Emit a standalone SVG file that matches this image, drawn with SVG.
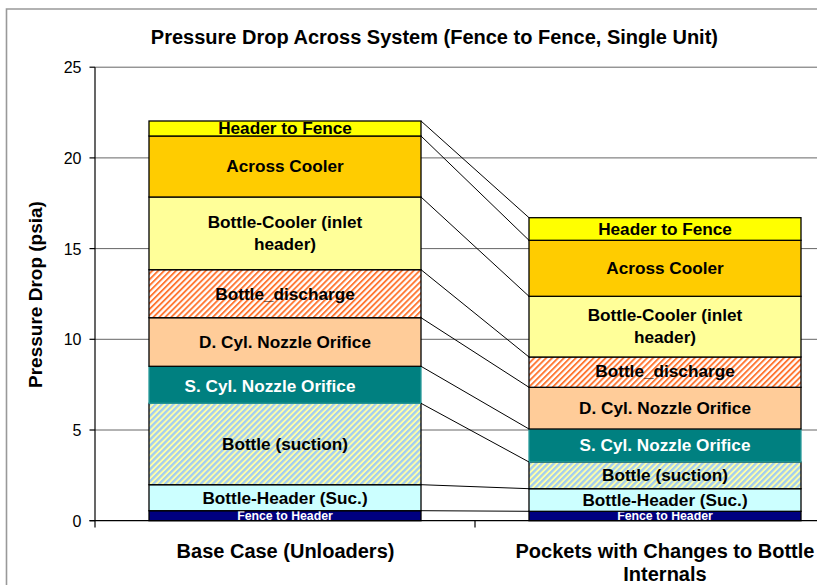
<svg xmlns="http://www.w3.org/2000/svg" width="817" height="585" viewBox="0 0 817 585">
<defs>
<pattern id="hOrange" patternUnits="userSpaceOnUse" width="4.2" height="4.2" patternTransform="rotate(-45)">
<rect width="4.2" height="4.2" fill="#ffffff"/>
<rect width="4.2" height="1.9" fill="#ff7733"/>
</pattern>
<pattern id="hBlue" patternUnits="userSpaceOnUse" width="4.2" height="4.2" patternTransform="rotate(-45)">
<rect width="4.2" height="4.2" fill="#ffffa8"/>
<rect width="4.2" height="2.3" fill="#a3cdf0"/>
</pattern>
</defs>
<style>
text{font-family:"Liberation Sans",Arial,sans-serif;}
.seg{stroke:#000;stroke-width:1.3;}
.lbl{font-size:17.2px;font-weight:bold;fill:#000;text-anchor:middle;}
.wl{fill:#fff;}
.sm{font-size:12.3px;font-weight:bold;fill:#fff;text-anchor:middle;}
.tick{font-size:16px;fill:#000;text-anchor:end;}
.big{font-size:20px;font-weight:bold;fill:#000;text-anchor:middle;}
.grid{stroke:#666;stroke-width:1;}
.conn{stroke:#000;stroke-width:1;fill:none;}
.ax{stroke:#000;stroke-width:1.2;}
</style>
<rect x="0" y="0" width="817" height="585" fill="#fff"/>
<path d="M6.5,585 L6.5,9 L817,9" fill="none" stroke="#999" stroke-width="1.6"/>

<g id="title"><text class="big" x="434.4" y="44">Pressure Drop Across System (Fence to Fence, Single Unit)</text></g>

<g id="grid">
<line class="grid" x1="95" y1="67.2" x2="817" y2="67.2"/>
<line class="grid" x1="95" y1="157.9" x2="817" y2="157.9"/>
<line class="grid" x1="95" y1="248.6" x2="817" y2="248.6"/>
<line class="grid" x1="95" y1="339.3" x2="817" y2="339.3"/>
<line class="grid" x1="95" y1="430" x2="817" y2="430"/>
</g>

<g id="yaxis">
<line class="ax" x1="95" y1="67.2" x2="95" y2="521"/>
<line class="ax" x1="89.5" y1="67.2" x2="95" y2="67.2"/>
<line class="ax" x1="89.5" y1="157.9" x2="95" y2="157.9"/>
<line class="ax" x1="89.5" y1="248.6" x2="95" y2="248.6"/>
<line class="ax" x1="89.5" y1="339.3" x2="95" y2="339.3"/>
<line class="ax" x1="89.5" y1="430" x2="95" y2="430"/>
<line class="ax" x1="89.5" y1="520.7" x2="95" y2="520.7"/>
<text class="tick" x="81.5" y="73.3">25</text>
<text class="tick" x="81.5" y="164">20</text>
<text class="tick" x="81.5" y="254.7">15</text>
<text class="tick" x="81.5" y="345.4">10</text>
<text class="tick" x="81.5" y="436.1">5</text>
<text class="tick" x="81.5" y="526.8">0</text>
<text class="big" transform="translate(42,294.5) rotate(-90)" x="0" y="0" style="font-size:19px">Pressure Drop (psia)</text>
</g>

<g id="L-fence-header"><rect class="seg" x="149" y="510.7" width="272" height="10" fill="#000080"/><text class="sm" x="285" y="519.5">Fence to Header</text></g>
<g id="L-bottle-header"><rect class="seg" x="149" y="484.7" width="272" height="26" fill="#ccffff"/><text class="lbl" x="285" y="504">Bottle-Header (Suc.)</text></g>
<g id="L-suction"><rect class="seg" x="149" y="403.3" width="272" height="81.4" fill="url(#hBlue)"/><text class="lbl" x="285" y="450">Bottle (suction)</text></g>
<g id="L-scyl"><rect x="149" y="366.3" width="272" height="37" fill="#008080" stroke="#2a9a9a" stroke-width="1.3"/><text class="lbl wl" x="270" y="391.5">S. Cyl. Nozzle Orifice</text></g>
<g id="L-dcyl"><rect class="seg" x="149" y="317.7" width="272" height="48.6" fill="#ffcc99"/><text class="lbl" x="285" y="347.7">D. Cyl. Nozzle Orifice</text></g>
<g id="L-discharge"><rect class="seg" x="149" y="269.7" width="272" height="48" fill="url(#hOrange)"/><text class="lbl" x="285" y="300">Bottle_discharge</text></g>
<g id="L-bottle-cooler"><rect class="seg" x="149" y="197" width="272" height="72.7" fill="#ffff99"/><text class="lbl" x="285" y="228.3">Bottle-Cooler (inlet</text><text class="lbl" x="285" y="250.3">header)</text></g>
<g id="L-cooler"><rect class="seg" x="149" y="136" width="272" height="61" fill="#ffcc00"/><text class="lbl" x="285" y="172.3">Across Cooler</text></g>
<g id="L-header-fence"><rect class="seg" x="149" y="121" width="272" height="15" fill="#ffff00"/><text class="lbl" x="285" y="133.5">Header to Fence</text></g>

<g id="R-fence-header"><rect class="seg" x="529" y="511.3" width="272" height="9.4" fill="#000080"/><text class="sm" x="665" y="519.5">Fence to Header</text></g>
<g id="R-bottle-header"><rect class="seg" x="529" y="488.7" width="272" height="22.6" fill="#ccffff"/><text class="lbl" x="665" y="505.5">Bottle-Header (Suc.)</text></g>
<g id="R-suction"><rect class="seg" x="529" y="462" width="272" height="26.7" fill="url(#hBlue)"/><text class="lbl" x="665" y="481">Bottle (suction)</text></g>
<g id="R-scyl"><rect x="529" y="429" width="272" height="33" fill="#008080" stroke="#2a9a9a" stroke-width="1.3"/><text class="lbl wl" x="665" y="451">S. Cyl. Nozzle Orifice</text></g>
<g id="R-dcyl"><rect class="seg" x="529" y="387.3" width="272" height="41.7" fill="#ffcc99"/><text class="lbl" x="665" y="414">D. Cyl. Nozzle Orifice</text></g>
<g id="R-discharge"><rect class="seg" x="529" y="357" width="272" height="30.3" fill="url(#hOrange)"/><text class="lbl" x="665" y="377.3">Bottle_discharge</text></g>
<g id="R-bottle-cooler"><rect class="seg" x="529" y="296.3" width="272" height="60.7" fill="#ffff99"/><text class="lbl" x="665" y="320.7">Bottle-Cooler (inlet</text><text class="lbl" x="665" y="343">header)</text></g>
<g id="R-cooler"><rect class="seg" x="529" y="240.3" width="272" height="56" fill="#ffcc00"/><text class="lbl" x="665" y="274">Across Cooler</text></g>
<g id="R-header-fence"><rect class="seg" x="529" y="217.7" width="272" height="22.6" fill="#ffff00"/><text class="lbl" x="665" y="235">Header to Fence</text></g>

<g id="connectors">
<line class="conn" x1="421" y1="121" x2="529" y2="217.7"/>
<line class="conn" x1="421" y1="136" x2="529" y2="240.3"/>
<line class="conn" x1="421" y1="197" x2="529" y2="296.3"/>
<line class="conn" x1="421" y1="269.7" x2="529" y2="357"/>
<line class="conn" x1="421" y1="317.7" x2="529" y2="387.3"/>
<line class="conn" x1="421" y1="366.3" x2="529" y2="429"/>
<line class="conn" x1="421" y1="403.3" x2="529" y2="462"/>
<line class="conn" x1="421" y1="484.7" x2="529" y2="488.7"/>
<line class="conn" x1="421" y1="510.7" x2="529" y2="511.3"/>
</g>

<g id="xaxis">
<line class="ax" x1="89.5" y1="520.7" x2="817" y2="520.7"/>
<line class="ax" x1="95" y1="520.7" x2="95" y2="527.5"/>
<line class="ax" x1="475" y1="520.7" x2="475" y2="527.5"/>
<text class="big" x="285.5" y="557.5">Base Case (Unloaders)</text>
<text class="big" x="665" y="557.5">Pockets with Changes to Bottle</text>
<text class="big" x="665" y="581">Internals</text>
</g>
</svg>
